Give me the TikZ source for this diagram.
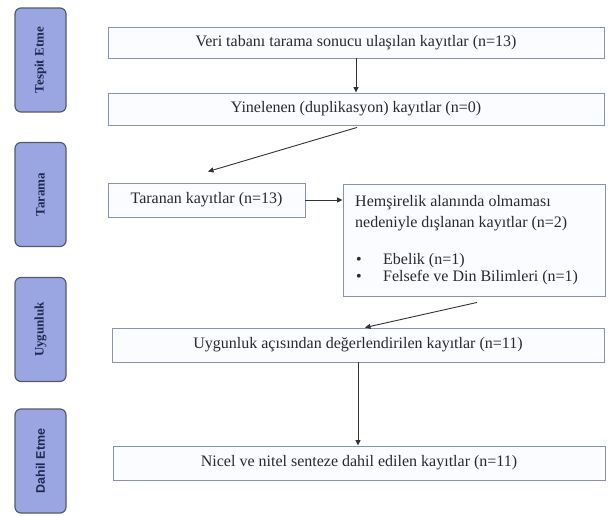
\documentclass[tikz,border=0pt]{standalone}
\usepackage{fontspec}
\setmainfont{Liberation Serif}
\newfontfamily\sidesans{Liberation Sans}
\usetikzlibrary{arrows.meta,calc}
\definecolor{boxline}{HTML}{8A93AC}
\definecolor{boxfill}{HTML}{FBFCFF}
\definecolor{sideline}{HTML}{555B6E}
\definecolor{sidefill}{HTML}{9AA6E2}
\definecolor{sidetext}{HTML}{1E2A52}
\definecolor{arrowcol}{HTML}{333333}
\definecolor{txt}{HTML}{2A2A2A}
\tikzset{
  flowbox/.style={draw=boxline, line width=0.9pt, fill=boxfill, inner sep=0pt, text=txt, font=\fontsize{16}{18}\selectfont},
  ftext/.style={inner sep=0pt, anchor=west, text=txt, font=\fontsize{16}{18}\selectfont},
  sidebox/.style={draw=sideline, line width=1.2pt, fill=sidefill, rounded corners=6pt, rotate=90, minimum width=104pt, minimum height=51pt, inner sep=0pt, text=sidetext, font=\bfseries\fontsize{13}{15}\selectfont},
  arr/.style={-{Triangle[length=5.5pt,width=5pt]}, line width=0.9pt, draw=arrowcol}
}
\begin{document}
\begin{tikzpicture}[x=1pt,y=-1pt]
\useasboundingbox[fill=white] (0,0) rectangle (611,517);
% side labels
\node[sidebox] (s1) at (40.5,60) {Tespit Etme};
\node[sidebox] (s2) at (40.5,194.5) {Tarama};
\node[sidebox] (s3) at (40.5,329.5) {Uygunluk};
\node[sidebox, font=\sidesans\bfseries\fontsize{12.5}{15}\selectfont] (s4) at (40.5,461) {Dahil Etme};
% main boxes
\node[flowbox, minimum width=496pt, minimum height=31pt] (b1) at (356,42.5) {Veri tabanı tarama sonucu ulaşılan kayıtlar (n=13)};
\node[flowbox, minimum width=496pt, minimum height=32pt] (b2) at (356,109) {Yinelenen (duplikasyon) kayıtlar (n=0)};
\node[flowbox, minimum width=197pt, minimum height=34pt] (b3) at (206.5,200) {Taranan kayıtlar (n=13)};
\node[flowbox, minimum width=262pt, minimum height=112pt] (b4) at (474,240) {};
\node[ftext] (h1) at (355,203) {Hemşirelik alanında olmaması};
\node[ftext] (h2) at (355,224) {nedeniyle dışlanan kayıtlar (n=2)};
\node[ftext] (d1) at (356,261) {•};
\node[ftext] (e1) at (383,261) {Ebelik (n=1)};
\node[ftext] (d2) at (356,278) {•};
\node[ftext] (e2) at (383,278) {Felsefe ve Din Bilimleri (n=1)};
\node[flowbox, minimum width=492pt, minimum height=34pt] (b5) at (358,345) {Uygunluk açısından değerlendirilen kayıtlar (n=11)};
\node[flowbox, minimum width=492pt, minimum height=34pt] (b6) at (359,463) {Nicel ve nitel senteze dahil edilen kayıtlar (n=11)};
% connectors
\coordinate (t3) at ($(b3.north)+(1.5,-11)$);
\coordinate (t5) at ($(b5.north)+(7,0)$);
\draw[arr] (b1) -- (b2);
\draw[arr] ($(b2.south)+(1,2)$) -- (t3);
\draw[arr] (b3.east) -- (b3.east -| b4.west);
\draw[arr] ($(b4.south)+(3,6)$) -- (t5);
\draw[arr] (b5.south) -- (b5.south |- b6.north);
\end{tikzpicture}
\end{document}
